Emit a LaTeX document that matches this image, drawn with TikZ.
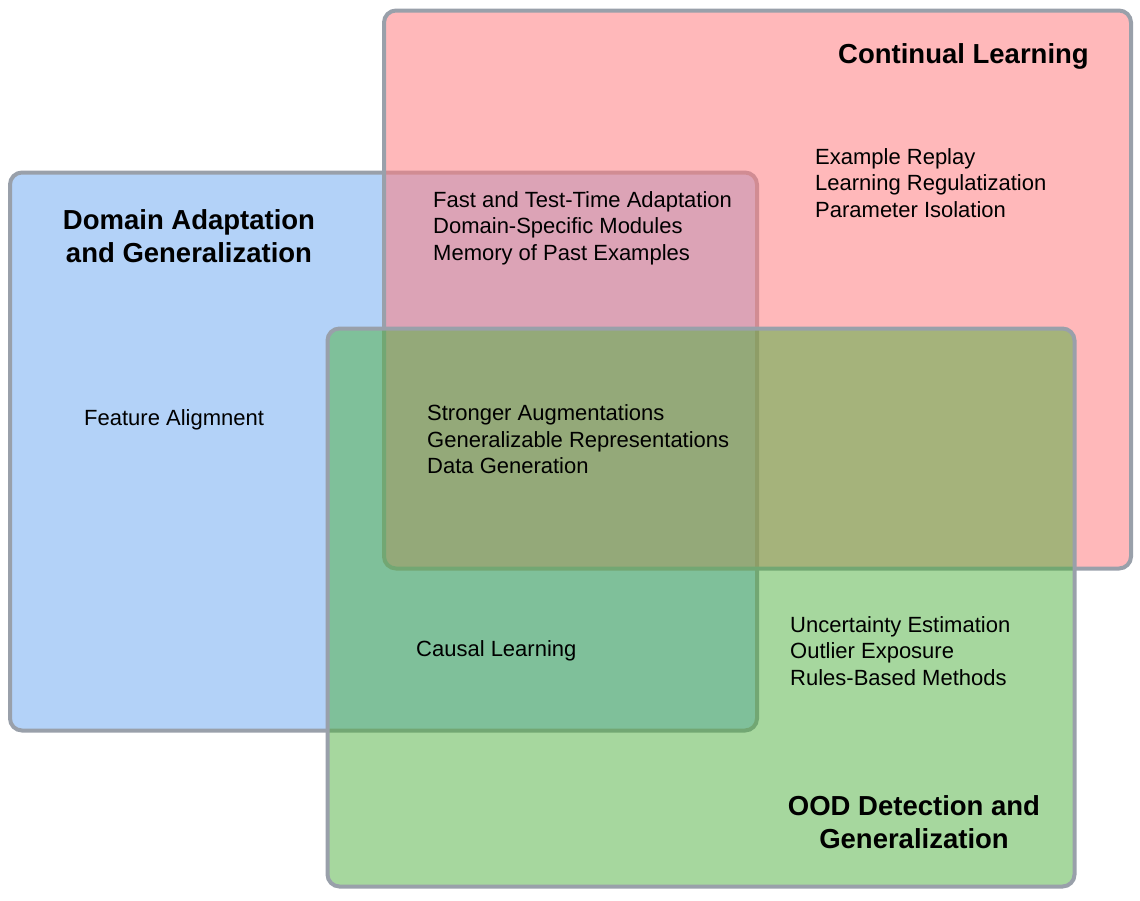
\documentclass[tikz,border=0pt]{standalone}
\usepackage{fontspec}
\setmainfont{Liberation Sans}
\definecolor{rimgray}{HTML}{99A0AA}
\definecolor{dablue}{HTML}{B3D2F8}
\definecolor{clred}{RGB}{255,125,129}
\definecolor{oodgreen}{RGB}{77,175,61}

\begin{document}
\begin{tikzpicture}[x=1pt, y=-1pt,
region/.style ={rectangle, rounded corners=12pt, draw=rimgray, line width=4pt,
  minimum width=747pt, minimum height=558pt, inner sep=0pt},
method/.style ={anchor=west, align=left, inner sep=0pt,
  font=\fontsize{22}{26.5}\selectfont},
title/.style ={align=center, inner sep=0pt,
  font=\fontsize{27.5}{33}\selectfont\bfseries}]

\useasboundingbox (0,0) rectangle (1140,900);

\node[region, fill=dablue] (DA) at (383.5,451.5) {};
\node[region, fill=clred, fill opacity=0.55] (CL) at (757.5,289.5) {};
\node[region, fill=oodgreen, fill opacity=0.5] (OOD) at (701,607.5) {};

\node[title, anchor=west] (CLtitle) at (838,56.5) {Continual Learning};
\node[title] (DAtitle) at (189,236) {Domain Adaptation\\and Generalization};
\node[title] (OODtitle) at (914,822.5) {OOD Detection and\\Generalization};

\node[method] (CLonly) at (815,183) {Example Replay\\Learning Regulatization\\Parameter Isolation};
\node[method] (DACL) at (433,228) {Fast and Test-Time Adaptation\\Domain-Specific Modules\\Memory of Past Examples};
\node[method] (DAonly) at (84,420) {Feature Aligmnent};
\node[method] (ALL) at (427,439.5) {Stronger Augmentations\\Generalizable Representations\\Data Generation};
\node[method] (DAOOD) at (416,651) {Causal Learning};
\node[method] (OODonly) at (790,651) {Uncertainty Estimation\\Outlier Exposure\\Rules-Based Methods};

\end{tikzpicture}
\end{document}
